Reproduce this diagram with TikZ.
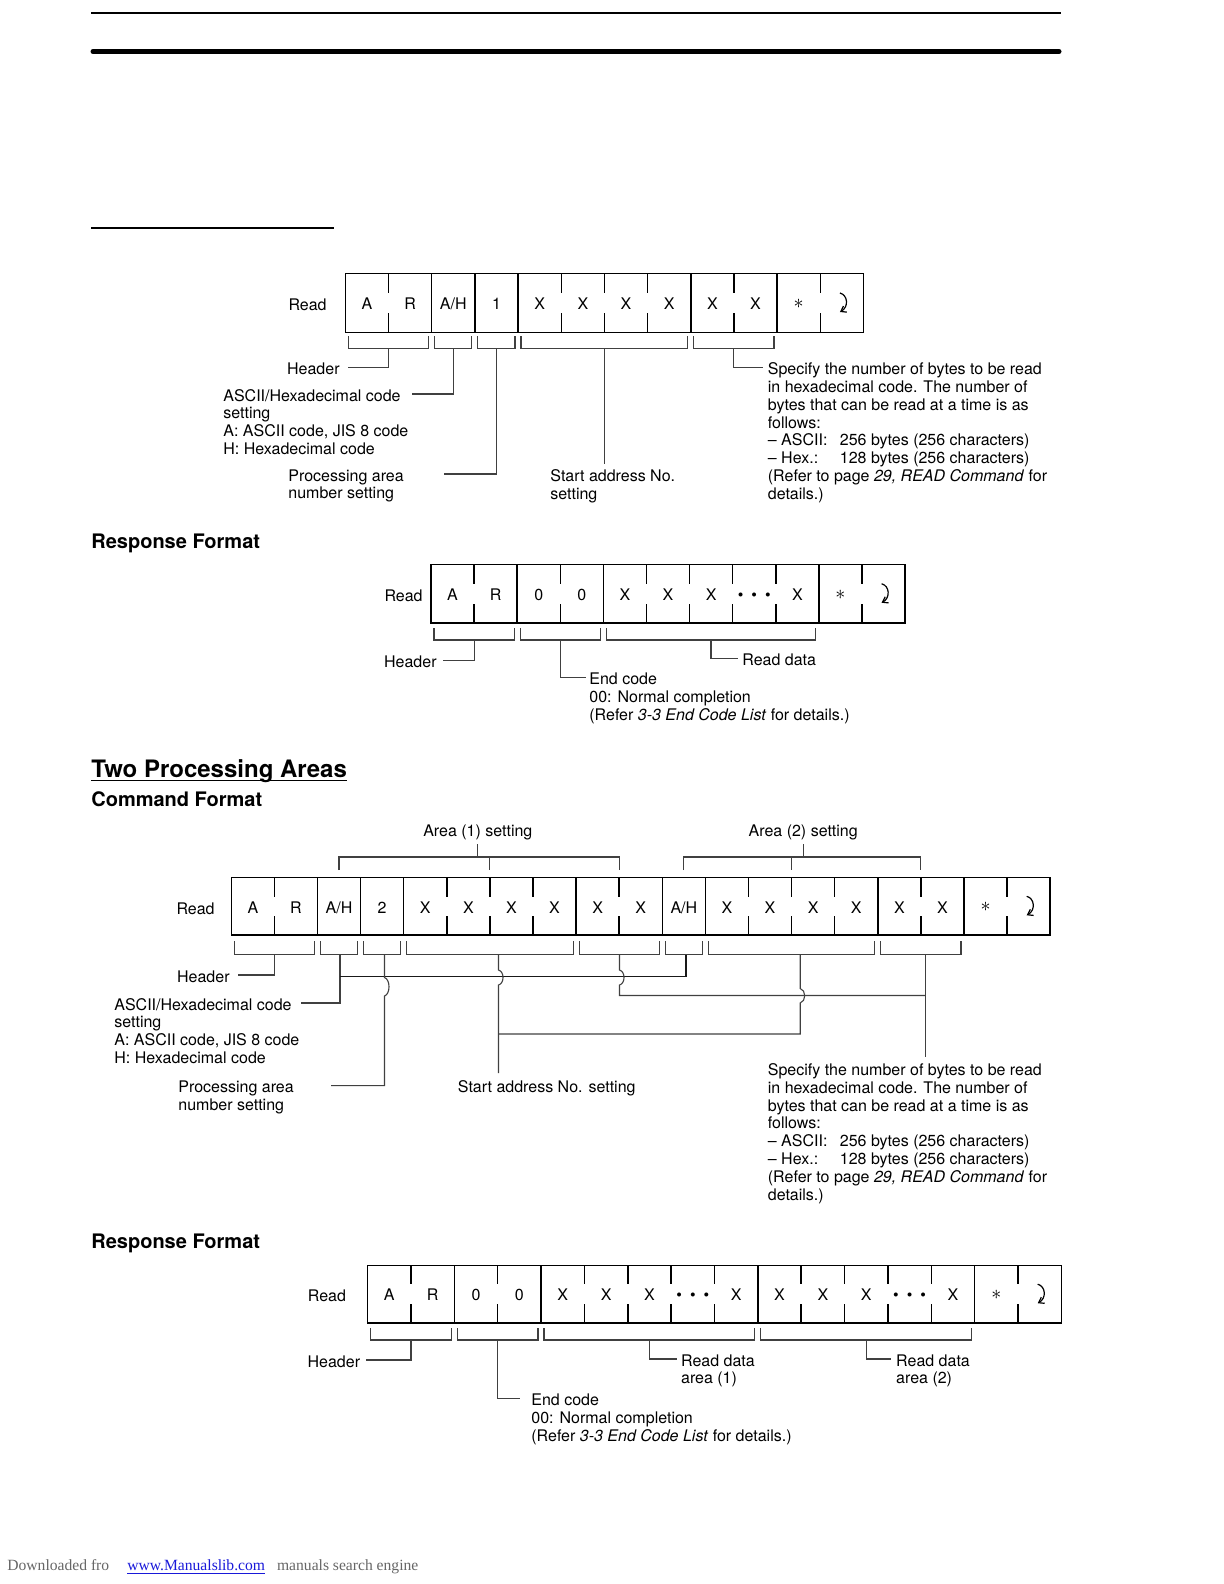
\documentclass[tikz,border=0pt]{standalone}
\usepackage{fontspec}
\setmainfont{TeX Gyre Heros}
\newfontfamily\footfont{Liberation Serif}
\usetikzlibrary{arrows.meta}
\definecolor{footgray}{gray}{0.4}
\definecolor{linkblue}{rgb}{0.1,0.1,0.85}
\newcommand\tklen{19}
\newcommand\dotsym{\textbullet\kern4pt\textbullet\kern4pt\textbullet}
\newcommand\astsym{\raisebox{0.6pt}{\fontsize{10}{10}\selectfont$\ast$}}
\tikzset{
  txt/.style={inner sep=0pt, font=\fontsize{8}{8.9}\selectfont},
  lbl/.style={txt, anchor=base west, align=left, yshift=-1pt},
  lblr/.style={txt, anchor=base east, yshift=-1pt},
  celltxt/.style={txt, anchor=base, yshift=-0.5pt},
  framel/.style={line width=0.75pt},
  brk/.style={line width=0.55pt, black!75},
  hd/.style={inner sep=0pt, anchor=base west, font=\fontsize{10}{12}\selectfont\bfseries},
  foot/.style={inner sep=0pt, anchor=base west, font=\footfont\fontsize{7.8}{9}\selectfont},
}
% #1 prefix, #2 x0, #3 y0, #4 cell width, #5 height, #6 texts, #7 full dividers
\newcommand\cellrow[7]{%
  \foreach \t [count=\i] in {#6} {
    \node[celltxt] (#1\i) at ({#2+(\i-0.5)*#4},{#3+#5/2+5.7}) {\t};
    \xdef\ncells{\i}
  }
  \draw[framel] (#2,#3) rectangle ({#2+\ncells*#4},{#3+#5});
  \pgfmathtruncatemacro\nlast{\ncells-1}
  \foreach \i in {1,...,\nlast} {
    \draw[framel] ({#2+\i*#4},#3) -- ++(0,\tklen) ({#2+\i*#4},{#3+#5}) -- ++(0,-\tklen);
  }
  \foreach \i in {#7} \draw[framel] ({#2+\i*#4},#3) -- ({#2+\i*#4},{#3+#5});
}
\newcommand\retsym[2]{\draw[line width=0.6pt,-{Straight Barb[length=2.5pt,width=3.5pt]}] ({#1-2},{#2-10}) .. controls ({#1+6},{#2-8}) and ({#1+7},{#2+4}) .. ({#1-2},{#2+9});}
% bracket: x1, x2, ytop, ybottom
\newcommand\brkt[4]{\draw[brk] (#1,#3) -- (#1,#4) -- (#2,#4) -- (#2,#3);}

\begin{document}
\begin{tikzpicture}[x=0.5pt,y=-0.5pt]
\useasboundingbox (0,0) rectangle (1224,1584);

% page rules
\draw[line width=1pt] (91,13) -- (1061,13);
\draw[line width=2.5pt, line cap=round] (93,51.5) -- (1059,51.5);
\draw[line width=0.75pt] (91,228) -- (334,228);

% ===== Command format, one area =====
\node[lblr] (read1) at (327,308.7) {Read};
\cellrow{a}{345.4}{273.7}{43.17}{58.6}{A,R,A/H,1,X,X,X,X,X,X,\astsym,{}}{2,3,4,8,10}
\retsym{841.9}{303}
\brkt{348.5}{428.7}{336}{348.5}
\brkt{434.7}{471.9}{336}{348.5}
\brkt{477.9}{515}{336}{348.5}
\brkt{521}{687.8}{336}{348.5}
\brkt{693.8}{774}{336}{348.5}
\coordinate (a-s1) at (388.6,348.5); \coordinate (a-e1) at (347.5,367.6);
\coordinate (a-s2) at (453.3,348.5); \coordinate (a-e2) at (412,394);
\coordinate (a-s3) at (496.5,348.5); \coordinate (a-e3) at (444,474);
\coordinate (a-s4) at (604.4,348.5); \coordinate (a-e4) at (604.4,464);
\coordinate (a-s5) at (733.9,348.5); \coordinate (a-e5) at (763,367.6);
\draw[brk] (a-s1) |- (a-e1);
\draw[brk] (a-s2) |- (a-e2);
\draw[brk] (a-s3) |- (a-e3);
\draw[brk] (a-s4) -- (a-e4);
\draw[brk] (a-s5) |- (a-e5);
\node[lblr] (a-t1) at (340,372.6) {Header};
\node[lbl] (a-t2) at (223,452.4) {ASCII/Hexadecimal code\\setting\\A: ASCII code, JIS 8 code\\H: Hexadecimal code};
\node[lbl] (a-t3) at (288,496.8) {Processing area\\number setting};
\node[lbl] (a-t4) at (550,497.4) {Start address No.\\setting};
\node[lbl] (a-t5) at (767.5,497.2) {Specify the number of bytes to be read\\in hexadecimal code. The number of\\bytes that can be read at a time is as\\follows:\\\makebox[36pt][l]{– ASCII:}256 bytes (256 characters)\\\makebox[36pt][l]{– Hex.:}128 bytes (256 characters)\\(Refer to page \textit{29, READ Command} for\\details.)};

% ===== Response format, one area =====
\node[hd] (rf1) at (91,548) {Response Format};
\node[lblr] (read2) at (423,599.5) {Read};
\cellrow{b}{431}{564.5}{43.1}{58.5}{A,R,0,0,X,X,X,\dotsym,X,\astsym,{}}{2,4,9}
\retsym{883.6}{593.75}
\brkt{434}{514.2}{628}{640}
\brkt{520.2}{600.4}{628}{640}
\brkt{606.4}{815.9}{628}{640}
\coordinate (b-s1) at (474.1,640); \coordinate (b-e1) at (443,660.5);
\coordinate (b-s2) at (560.3,640); \coordinate (b-e2) at (586,677.6);
\coordinate (b-s3) at (711,640); \coordinate (b-e3) at (738,658.5);
\draw[brk] (b-s1) |- (b-e1);
\draw[brk] (b-s2) |- (b-e2);
\draw[brk] (b-s3) |- (b-e3);
\node[lblr] (b-t1) at (437,665.5) {Header};
\node[lbl] (b-t2) at (589,718.2) {End code\\00: Normal completion\\(Refer \textit{3-3 End Code List} for details.)};
\node[lbl] (b-t3) at (742,663.5) {Read data};

% ===== Two processing areas =====
\node[hd, font=\fontsize{12}{14}\selectfont\bfseries] (tpa) at (91,777) {Two Processing Areas};
\draw[line width=0.75pt] ([yshift=-1.8pt]tpa.base west) -- ([yshift=-1.8pt]tpa.base east);
\node[hd] (cf) at (91,806.5) {Command Format};

\node[lblr] (read3) at (215,912) {Read};
\cellrow{c}{231.3}{877.6}{43.1}{57.4}{A,R,A/H,2,X,X,X,X,X,X,A/H,X,X,X,X,X,X,\astsym,{}}{2,3,4,8,10,11,15,17}
\retsym{1028.7}{906.3}

% area brackets above
\node[txt, anchor=base, yshift=-1pt] (ar1) at (477.8,834) {Area (1) setting};
\node[txt, anchor=base, yshift=-1pt] (ar2) at (803.2,834) {Area (2) setting};
\coordinate (ar1-s) at (477.8,844);
\coordinate (ar1-j) at (477.8,857);
\coordinate (ar2-s) at (803.2,844);
\coordinate (ar2-j) at (803.2,857);
\draw[brk] (ar1-s) -- (ar1-j);
\draw[brk] (339,870) -- (339,857) -- (619.2,857) -- (619.2,870);
\draw[brk] (489.9,857) -- (489.9,870);
\draw[brk] (ar2-s) -- (ar2-j);
\draw[brk] (683.9,870) -- (683.9,857) -- (920.9,857) -- (920.9,870);
\draw[brk] (791.6,857) -- (791.6,870);

% brackets below
\brkt{234.3}{314.5}{941}{954.5}
\brkt{320.5}{357.6}{941}{954.5}
\brkt{363.6}{400.7}{941}{954.5}
\brkt{406.7}{573.1}{941}{954.5}
\brkt{579.1}{659.3}{941}{954.5}
\brkt{665.3}{702.4}{941}{954.5}
\brkt{708.4}{874.8}{941}{954.5}
\brkt{880.8}{961}{941}{954.5}

\coordinate (c-hdr) at (274.4,954.5); \coordinate (c-hdr-e) at (238,975);
\coordinate (c-ah1) at (340,954.5);   \coordinate (c-ah1-j) at (340,976.6); \coordinate (c-ah1-e) at (301,1003);
\coordinate (c-pn) at (384.5,954.5);
\coordinate (c-sa1) at (498.5,954.5); \coordinate (c-sa1-j) at (498.5,1034);
\coordinate (c-nb1) at (619.5,954.5);
\coordinate (c-ah2) at (686,954.5);
\coordinate (c-sa2) at (800.2,954.5);
\coordinate (c-nb2) at (925.2,954.5); \coordinate (c-nb2-j) at (925.2,995.5); \coordinate (c-nb2-e) at (925.2,1057);

\draw[brk] (c-hdr) |- (c-hdr-e);
\draw[brk] (c-ah1) |- (c-ah1-e);
\draw[brk, black!90] (c-ah2) |- (c-ah1-j);
\draw[brk] (c-pn) -- (384.5,977.5) .. controls (390.5,979.5) and (390.5,994) .. (384.5,996) -- (384.5,1085.6) -- (331,1085.6);
\draw[brk] (c-sa1) -- (498.5,970) .. controls (504.5,971.5) and (504.5,983.5) .. (498.5,985) -- (498.5,1073);
\draw[brk] (c-nb1) -- (619.5,970) .. controls (625.5,971.5) and (625.5,983.5) .. (619.5,985) |- (c-nb2-j);
\draw[brk] (c-sa2) -- (800.2,988.5) .. controls (806.2,990) and (806.2,1001.5) .. (800.2,1003) |- (c-sa1-j);
\draw[brk] (c-nb2) -- (c-nb2-e);

\node[lblr] (c-t1) at (230,980) {Header};
\node[lbl] (c-t2) at (114,1061.4) {ASCII/Hexadecimal code\\setting\\A: ASCII code, JIS 8 code\\H: Hexadecimal code};
\node[lbl] (c-t3) at (178,1108.4) {Processing area\\number setting};
\node[lbl] (c-t4) at (457.5,1090.6) {Start address No. setting};
\node[lbl] (c-t5) at (767.5,1198.1) {Specify the number of bytes to be read\\in hexadecimal code. The number of\\bytes that can be read at a time is as\\follows:\\\makebox[36pt][l]{– ASCII:}256 bytes (256 characters)\\\makebox[36pt][l]{– Hex.:}128 bytes (256 characters)\\(Refer to page \textit{29, READ Command} for\\details.)};

% ===== Response format, two areas =====
\node[hd] (rf2) at (91,1248.5) {Response Format};
\node[lblr] (read4) at (346.4,1299.9) {Read};
\cellrow{d}{367.6}{1265.4}{43.36}{57.6}{A,R,0,0,X,X,X,\dotsym,X,X,X,X,\dotsym,X,\astsym,{}}{2,4,9,14}
\retsym{1039.7}{1294.2}
\brkt{370.6}{451.3}{1328}{1340}
\brkt{457.3}{538}{1328}{1340}
\brkt{544}{754.8}{1328}{1340}
\brkt{760.8}{971.6}{1328}{1340}
\coordinate (d-s1) at (411,1340);   \coordinate (d-e1) at (365.6,1360);
\coordinate (d-s2) at (497.7,1340); \coordinate (d-e2) at (520,1398.7);
\coordinate (d-s3) at (649.4,1340); \coordinate (d-e3) at (676.6,1359);
\coordinate (d-s4) at (866.2,1340); \coordinate (d-e4) at (890.7,1359);
\draw[brk] (d-s1) |- (d-e1);
\draw[brk] (d-s2) |- (d-e2);
\draw[brk] (d-s3) |- (d-e3);
\draw[brk] (d-s4) |- (d-e4);
\node[lblr] (d-t1) at (360.5,1365) {Header};
\node[lbl] (d-t2) at (531,1439.3) {End code\\00: Normal completion\\(Refer \textit{3-3 End Code List} for details.)};
\node[lbl] (d-t3) at (680.7,1381.8) {Read data\\area (1)};
\node[lbl] (d-t4) at (895.8,1381.8) {Read data\\area (2)};

% footer
\node[foot, text=footgray] (f1) at (7,1570) {Downloaded fro};
\node[foot, text=linkblue] (f2) at (127,1570) {\underline{www.Manualslib.com}};
\node[foot, text=footgray] (f3) at (276.7,1570) {manuals search engine};
\end{tikzpicture}
\end{document}
